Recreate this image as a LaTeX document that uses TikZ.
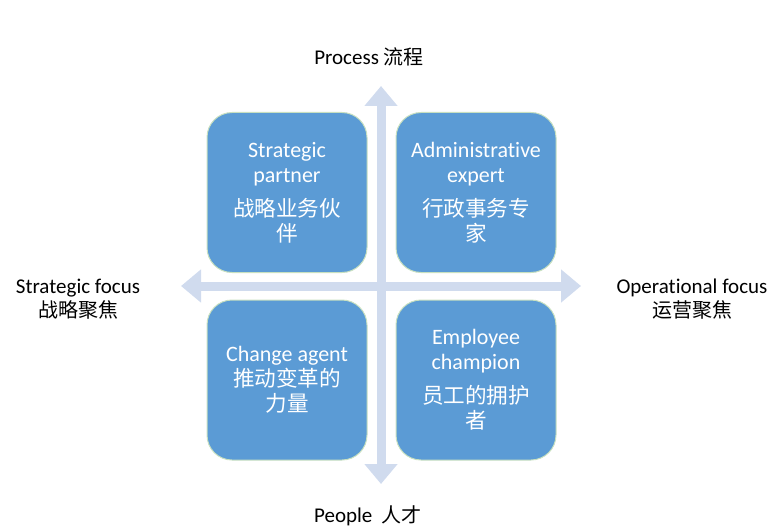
\documentclass[tikz,border=0pt]{standalone}
\usepackage{fontspec}
\setmainfont{Carlito}[Ligatures=NoCommon]
\newfontfamily\cjk{Noto Sans CJK SC}
\usetikzlibrary{arrows.meta}
\definecolor{boxblue}{HTML}{5B9BD5}
\definecolor{boxedge}{HTML}{C8E0C0}
\definecolor{arrowblue}{HTML}{D0DBEE}
\newcommand\zhbox[1]{{\cjk\fontsize{21.6}{25}\selectfont #1}}
\newcommand\zhlab[1]{{\cjk\fontsize{20}{24}\selectfont #1}}
\begin{document}
\begin{tikzpicture}[x=1pt,y=-1pt,
  quad/.style={draw=boxedge, line width=1pt, fill=boxblue, rounded corners=25pt,
    minimum width=160pt, minimum height=160pt, text=white, align=center,
    inner sep=0pt, font=\fontsize{22}{25}\selectfont},
  axis/.style={draw=arrowblue, line width=9pt,
    {Triangle[width=32pt,length=20pt]}-{Triangle[width=32pt,length=20pt]}},
  lab/.style={align=center, font=\fontsize{21}{24}\selectfont, text=black, inner sep=0pt}]
\useasboundingbox (0,0) rectangle (781,532);

% axes
\coordinate (vtop) at (381,86);
\coordinate (vbot) at (381,484);
\coordinate (hleft) at (181,286);
\coordinate (hright) at (581,286);
\draw[axis] (vtop) -- (vbot);
\draw[axis] (hleft) -- (hright);

% quadrants
\node[quad] (sp) at (287,192.5) {Strategic\\partner\\[9pt]\zhbox{战略业务伙}\\\zhbox{伴}};
\node[quad] (ae) at (476,192.5) {Administrative\\expert\\[9pt]\zhbox{行政事务专}\\\zhbox{家}};
\node[quad] (ca) at (287,380) {Change agent\\\zhbox{推动变革的}\\\zhbox{力量}};
\node[quad] (ec) at (476,380) {Employee\\champion\\[9pt]\zhbox{员工的拥护}\\\zhbox{者}};

% axis labels
\node[lab] (proc) at (369,57) {Process \zhlab{流程}};
\node[lab] (peop) at (368,516) {People\ \ \zhlab{人才}};
\node[lab] (strat) at (78,299) {Strategic focus\\\zhlab{战略聚焦}};
\node[lab] (oper) at (692,299) {Operational focus\\\zhlab{运营聚焦}};
\end{tikzpicture}
\end{document}
